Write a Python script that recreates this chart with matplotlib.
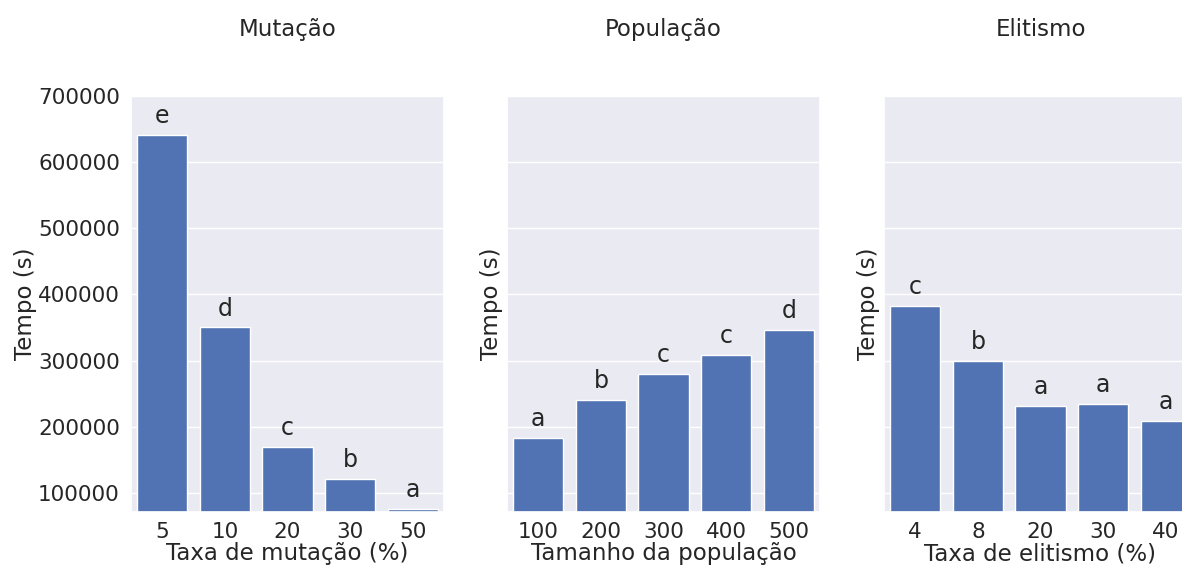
import matplotlib
matplotlib.use("Agg")
import matplotlib.pyplot as plt
import seaborn as sns

# dados
mutacao_cat = ["5", "10", "20", "30", "50"]
mutacao_tempo = [641500, 350000, 170000, 121000, 76000]
mutacao_letras = ["e", "d", "c", "b", "a"]

populacao_cat = ["100", "200", "300", "400", "500"]
populacao_tempo = [183000, 241000, 280000, 308000, 346000]
populacao_letras = ["a", "b", "c", "c", "d"]

elitismo_cat = ["4", "8", "20", "30", "40"]
elitismo_tempo = [382000, 300000, 231000, 234000, 209000]
elitismo_letras = ["c", "b", "a", "a", "a"]

sns.set_theme(style="darkgrid")
plt.rcParams['font.family'] = ['DejaVu Sans']

fig = plt.figure(figsize=(11.82, 5.66), dpi=100)

paineis = [
    ("Mutação", "Taxa de mutação (%)", mutacao_cat, mutacao_tempo, mutacao_letras, 131),
    ("População", "Tamanho da população", populacao_cat, populacao_tempo, populacao_letras, 507),
    ("Elitismo", "Taxa de elitismo (%)", elitismo_cat, elitismo_tempo, elitismo_letras, 884),
]

W, H = 1182, 566
for i, (titulo, xlabel, cats, valores, letras, left) in enumerate(paineis):
    ax = fig.add_axes([left / W, (H - 512) / H, 313 / W, 416 / H])
    x = list(range(len(cats)))
    ax.bar(x, valores, width=0.8, color="#5173b3", edgecolor="white", linewidth=1)
    ax.set_xticks(x)
    ax.set_xticklabels(cats)
    ax.set_xlim(-0.5, len(cats) - 0.5)
    ax.set_ylim(71000, 700000)
    ax.set_yticks([100000, 200000, 300000, 400000, 500000, 600000, 700000])
    ax.xaxis.grid(False)
    ax.tick_params(axis="x", labelsize=15.5, pad=1)
    ax.tick_params(axis="y", labelsize=15.5, pad=2)
    if i > 0:
        ax.tick_params(axis="y", labelleft=False)
    ax.set_ylabel("Tempo (s)", fontsize=16.5, labelpad=1 if i == 0 else 3)
    ax.set_xlabel(xlabel, fontsize=16.5, labelpad=0.5)
    ax.set_title(titulo, fontsize=16.5, pad=43)
    for xi, v, l in zip(x, valores, letras):
        ax.annotate(l, (xi, v), xytext=(0, 5), textcoords="offset points",
                    ha="center", va="bottom", fontsize=17, color="#262626")

fig.savefig("out.png", dpi=100)
